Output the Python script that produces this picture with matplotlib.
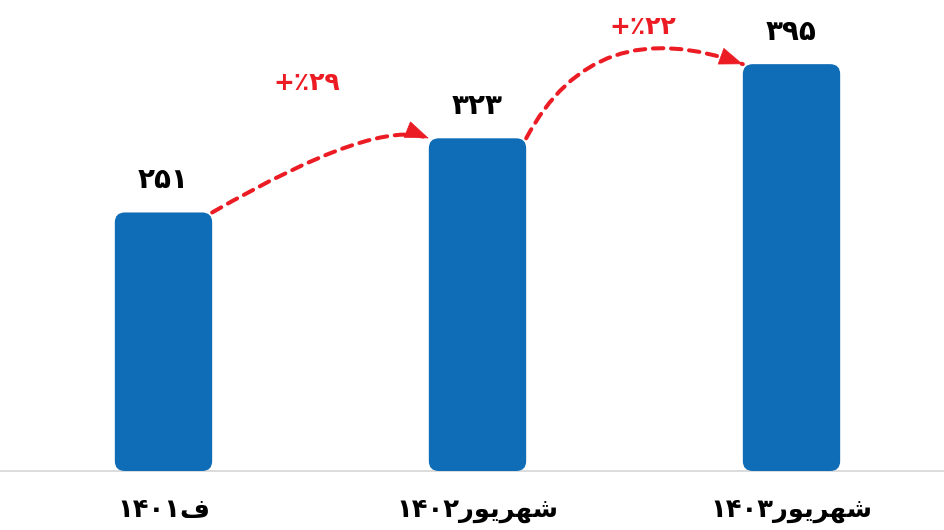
import math
import matplotlib
matplotlib.use('Agg')
import matplotlib.pyplot as plt
from matplotlib.patches import FancyBboxPatch, FancyArrowPatch

# ---------------- data ----------------
categories = ['ف۱۴۰۱', 'شهریور۱۴۰۲', 'شهریور۱۴۰۳']
values = [251, 323, 395]
growth_pct = [29, 22]

BLUE = '#0F6DB7'
RED = '#EC1C24'
AXIS = '#D9D9D9'

plt.rcParams['font.family'] = ['DejaVu Sans']

# ---------------- minimal Persian shaping (matplotlib has no shaper) ----------------
FORMS = {  # isolated, final, initial, medial, dual-joining
    'ش': ('\uFEB5', '\uFEB6', '\uFEB7', '\uFEB8', True),
    'ه': ('\uFEE9', '\uFEEA', '\uFEEB', '\uFEEC', True),
    'ر': ('\uFEAD', '\uFEAE', None, None, False),
    'ی': ('\uFEEF', '\uFEF0', '\uFEF3', '\uFEF4', True),
    'و': ('\uFEED', '\uFEEE', None, None, False),
    'ف': ('\uFED1', '\uFED2', '\uFED3', '\uFED4', True),
}


def shape(text):
    out = []
    for i, ch in enumerate(text):
        if ch not in FORMS:
            out.append(ch)
            continue
        iso, fin, ini, med, dual = FORMS[ch]
        prev_j = i > 0 and text[i - 1] in FORMS and FORMS[text[i - 1]][4]
        next_j = dual and i + 1 < len(text) and text[i + 1] in FORMS
        if prev_j and next_j:
            out.append(med)
        elif prev_j:
            out.append(fin)
        elif next_j:
            out.append(ini)
        else:
            out.append(iso)
    # visual reorder (RTL paragraph, digit runs stay LTR)
    runs, cur, cur_ar = [], '', None
    for orig, ch in zip(text, out):
        is_ar = orig in FORMS
        if cur_ar is None or is_ar == cur_ar:
            cur += ch
        else:
            runs.append((cur, cur_ar))
            cur = ch
        cur_ar = is_ar
    runs.append((cur, cur_ar))
    return ''.join(r[::-1] if a else r for r, a in reversed(runs))


FA_DIGITS = str.maketrans('0123456789', '۰۱۲۳۴۵۶۷۸۹')


def fa(n):
    return str(n).translate(FA_DIGITS)


# ---------------- figure ----------------
W, H = 944, 530
fig = plt.figure(figsize=(W / 100, H / 100), dpi=100)
base_px = 59
ax = fig.add_axes([0, base_px / H, 1, (H - base_px) / H])
xs = list(range(len(values)))
bars = ax.bar(xs, values, width=0.31, color=BLUE)
ax.set_xlim(-163.5 / 314, (W - 163.5) / 314)
ax.set_ylim(0, (H - base_px) / 1.03)
ax.axis('off')
ax.axhline(0, color=AXIS, lw=1.3, clip_on=False, zorder=0)

fig.canvas.draw()
p0 = ax.transData.transform((0, 0))
p1 = ax.transData.transform((1, 1))
sx, sy = p1[0] - p0[0], p1[1] - p0[1]
aspect = sx / sy
radius_px = 10
for rect in bars:
    x0, y0, w, h = rect.get_x(), rect.get_y(), rect.get_width(), rect.get_height()
    rect.set_visible(False)
    ax.add_patch(FancyBboxPatch((x0, y0), w, h,
                                boxstyle=f"round,pad=0,rounding_size={radius_px / sx}",
                                mutation_aspect=aspect, fc=BLUE, ec='none', zorder=2))

# value labels
for i, v in enumerate(values):
    ax.annotate(fa(v), (i, v), xytext=(0, 17.5), textcoords='offset points',
                ha='center', va='baseline', fontsize=20, fontweight='bold',
                color='black', annotation_clip=False)

# category labels
for i, c in enumerate(categories):
    ax.annotate(shape(c), (i, 0), xytext=(0, -28), textcoords='offset points',
                ha='center', va='center', fontsize=18.5, fontweight='bold',
                color='black', annotation_clip=False)

# growth arrows
arrow_angles = [(30, -22), (62, -20)]
pct_offsets = [(-10, 40), (6, 27)]
inv = ax.transData.inverted()
for i, g in enumerate(growth_pct):
    r0, r1 = bars[i], bars[i + 1]
    start = (r0.get_x() + r0.get_width(), values[i])
    end = (r1.get_x(), values[i + 1])
    a, b = arrow_angles[i]
    # dashed curve
    ax.add_patch(FancyArrowPatch(start, end,
                                 connectionstyle=f"angle3,angleA={a},angleB={b}",
                                 arrowstyle="-", mutation_scale=1, lw=2.9,
                                 linestyle=(0, (2.6, 1.9)), color=RED,
                                 shrinkA=0, shrinkB=0, zorder=3))
    # solid head aligned with the end tangent
    ed = ax.transData.transform(end)
    tail = inv.transform((ed[0] - 2 * math.cos(math.radians(b)),
                          ed[1] - 2 * math.sin(math.radians(b))))
    ax.add_patch(FancyArrowPatch(tuple(tail), end,
                                 arrowstyle="-|>,head_length=16,head_width=6",
                                 mutation_scale=1, lw=0.5, color=RED,
                                 shrinkA=0, shrinkB=0, zorder=4))
    dx, dy = pct_offsets[i]
    ax.annotate('+٪' + fa(g), (i + 0.5, values[i + 1]), xytext=(dx, dy),
                textcoords='offset points', ha='center', va='center',
                fontsize=18, fontweight='bold', color=RED, annotation_clip=False)

fig.savefig('out.png', dpi=100)
